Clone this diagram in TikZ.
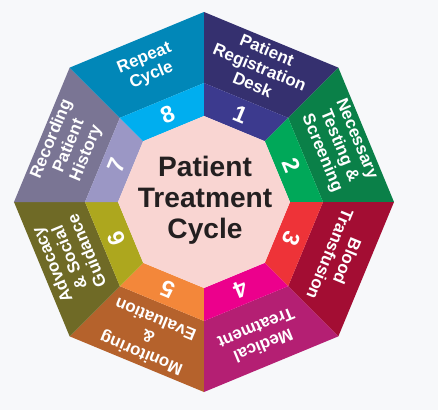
\documentclass[tikz,border=0pt]{standalone}
\usepackage{fontspec}
\setmainfont{Liberation Sans}

\definecolor{pagebg}{HTML}{F7F8FA}
\definecolor{hubfill}{HTML}{F9D5D2}
\definecolor{hubtext}{HTML}{231F20}
\definecolor{deskout}{HTML}{35306F}
\definecolor{desknum}{HTML}{3C3A8E}
\definecolor{testout}{HTML}{0A8048}
\definecolor{testnum}{HTML}{00A859}
\definecolor{bloodout}{HTML}{A30D33}
\definecolor{bloodnum}{HTML}{EE3338}
\definecolor{medout}{HTML}{B41F73}
\definecolor{mednum}{HTML}{EC008C}
\definecolor{monout}{HTML}{B5622C}
\definecolor{monnum}{HTML}{F3873A}
\definecolor{advout}{HTML}{6F6A26}
\definecolor{advnum}{HTML}{ADA71E}
\definecolor{recout}{HTML}{7A7594}
\definecolor{recnum}{HTML}{9B97C5}
\definecolor{repout}{HTML}{0187B8}
\definecolor{repnum}{HTML}{00AEEF}

\begin{document}
\begin{tikzpicture}[x=0.03cm,y=0.03cm,
  steptext/.style={text=white,align=center,font=\bfseries\fontsize{14.5}{16}\selectfont},
  stepnum/.style={text=white,font=\bfseries\fontsize{20}{20}\selectfont},
  hublabel/.style={text=hubtext,align=center,font=\bfseries\fontsize{24}{26.5}\selectfont}]
\fill[pagebg] (-204,-208) rectangle (234,202);
\useasboundingbox (-204,-208) rectangle (234,202);

% eight steps round the hub
\foreach \i/\outc/\numc/\txt in {
    1/deskout/desknum/{Patient\\Registration\\Desk},
    2/testout/testnum/{Necessary\\Testing \&\\Screening},
    3/bloodout/bloodnum/{Blood\\Transfusion},
    4/medout/mednum/{Medical\\Treatment},
    5/monout/monnum/{Monitoring\\\&\\Evaluation},
    6/advout/advnum/{Advocacy\\\& Social\\Guidance},
    7/recout/recnum/{Recording\\Patient\\History},
    8/repout/repnum/{Repeat\\Cycle}}{
  \pgfmathsetmacro{\a}{90-45*(\i-1)}
  \pgfmathsetmacro{\b}{\a-45}
  \pgfmathsetmacro{\m}{\a-22.5}
  \fill[\outc] (\a:190) -- (\b:190) -- (\b:119) -- (\a:119) -- cycle;
  \fill[\numc] (\a:119) -- (\b:119) -- (\b:86) -- (\a:86) -- cycle;
  \node[steptext,rotate=\m-90] (step\i) at (\m:146) {\txt};
  \node[stepnum,rotate=\m-90] (num\i) at (\m:95) {\i};
}

% hub
\fill[hubfill] (90:86) \foreach \k in {1,...,7}{ -- (90-45*\k:86)} -- cycle;
\node[hublabel] (hub) at (1,2) {Patient\\Treatment\\Cycle};
\end{tikzpicture}
\end{document}
